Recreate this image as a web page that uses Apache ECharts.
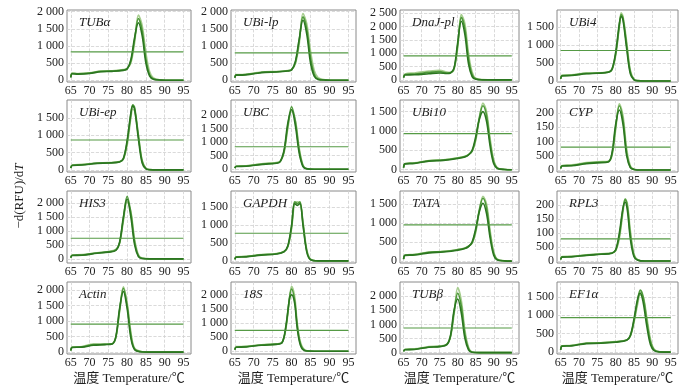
<!DOCTYPE html>
<html>
<head>
<meta charset="utf-8">
<script src="https://cdn.jsdelivr.net/npm/echarts@6/dist/echarts.min.js"></script>
<style>
  html, body { margin: 0; padding: 0; background: #fff; }
  #chart { width: 700px; height: 391px; }
</style>
</head>
<body>
<div id="chart"></div>
<script>
// gene names, one per panel (row by row)
const panelNames = ['TUBα', 'UBi-lp', 'DnaJ-pl', 'UBi4', 'UBi-ep', 'UBC', 'UBi10', 'CYP',
    'HIS3', 'GAPDH', 'TATA', 'RPL3', 'Actin', '18S', 'TUBβ', 'EF1α'];
const thresholds = [830, 800, 900, 850, 865, 830, 930, 80, 740, 770, 950, 79, 900, 740, 870, 935];
const yMin = [-50, -50, -80, -30, -60, -100, -60, -7, -150, -60, -50, -7, -60, -100, -50, -50];
const yMax = [2050, 2050, 2620, 1980, 2020, 2550, 1800, 245, 2440, 1950, 1840, 250, 2250, 2450, 2500, 1900];
const ticks2000 = [0, 500, 1000, 1500, 2000];
const ticks2500 = [0, 500, 1000, 1500, 2000, 2500];
const ticks1500 = [0, 500, 1000, 1500];
const ticks200 = [0, 50, 100, 150, 200];
const labels200 = ['0', '500', '100', '150', '200'];   // printed this way in the figure
const yTicks = [ticks2000, ticks2000, ticks2500, ticks1500, ticks1500, ticks2000, ticks1500, ticks200,
    ticks2000, ticks1500, ticks1500, ticks200, ticks2000, ticks2000, ticks2000, ticks1500];
const xTicks = [65, 70, 75, 80, 85, 90, 95];

// melt curves: temperatures and three replicate traces (dark, mid, light)
const tempsTUBa = [65, 65.4, 67, 70, 73, 76, 79, 80, 81, 82, 83, 84, 85, 86, 87, 89, 92, 95];
const curvesTUBa = [
    [80, 190, 180, 200, 250, 260, 290, 330, 600, 1250, 1680, 1300, 500, 120, 30, 5, 0, 0],
    [90, 200, 190, 210, 260, 270, 300, 340, 560, 1200, 1800, 1450, 620, 160, 40, 8, 0, 0],
    [100, 210, 200, 220, 270, 275, 310, 340, 500, 1100, 1900, 1600, 800, 250, 70, 10, 0, 0]];
const tempsUBiLp = [65, 65.4, 67, 70, 73, 76, 79, 80, 81, 82, 83, 84, 85, 86, 87, 89, 92, 95];
const curvesUBiLp = [
    [70, 150, 150, 190, 230, 240, 270, 300, 550, 1200, 1750, 1350, 500, 110, 25, 5, 0, 0],
    [80, 160, 160, 200, 240, 250, 280, 310, 520, 1150, 1850, 1500, 650, 170, 40, 8, 0, 0],
    [90, 170, 170, 210, 250, 255, 285, 310, 480, 1050, 1950, 1650, 850, 280, 80, 15, 0, 0]];
const tempsDnaJ = [65, 65.4, 68, 72, 75, 77, 78, 79, 80, 81, 82, 83, 84, 85, 87, 90, 95];
const curvesDnaJ = [
    [80, 180, 190, 230, 260, 240, 260, 450, 1400, 2200, 1700, 600, 120, 20, 0, 0, 0],
    [90, 200, 220, 280, 310, 260, 270, 430, 1300, 2350, 1900, 800, 200, 40, 5, 0, 0],
    [100, 220, 260, 330, 360, 290, 280, 400, 1200, 2450, 2100, 1000, 300, 60, 10, 0, 0]];
const tempsUBi4 = [65, 65.4, 68, 72, 75, 78, 79, 80, 81, 81.5, 82, 83, 84, 85, 86, 88, 95];
const curvesUBi4 = [
    [60, 140, 150, 200, 215, 240, 330, 800, 1600, 1800, 1700, 900, 200, 30, 5, 0, 0],
    [65, 150, 160, 210, 220, 245, 320, 750, 1550, 1850, 1750, 1000, 250, 40, 8, 0, 0],
    [70, 160, 170, 220, 225, 250, 310, 700, 1500, 1900, 1800, 1100, 300, 50, 10, 0, 0]];
const tempsUBiEp = [65, 65.4, 68, 72, 75, 78, 79, 80, 81, 81.5, 82, 83, 84, 85, 86, 88, 95];
const curvesUBiEp = [
    [50, 130, 140, 190, 200, 230, 330, 850, 1650, 1850, 1750, 900, 200, 30, 5, 0, 0],
    [55, 135, 150, 195, 205, 235, 320, 800, 1600, 1880, 1800, 1000, 250, 40, 8, 0, 0],
    [60, 140, 160, 200, 210, 240, 310, 700, 1500, 1750, 1700, 1000, 280, 50, 10, 0, 0]];
const tempsUBC = [65, 65.4, 68, 71, 74, 76, 77, 78, 79, 80, 81, 82, 83, 84, 86, 95];
const curvesUBC = [
    [40, 100, 110, 160, 200, 220, 280, 700, 1700, 2200, 1600, 600, 100, 15, 0, 0],
    [45, 110, 120, 170, 210, 230, 290, 650, 1600, 2300, 1750, 700, 130, 20, 0, 0],
    [50, 120, 130, 180, 230, 250, 300, 600, 1500, 2150, 1800, 800, 160, 25, 0, 0]];
const tempsUBi10 = [65, 65.4, 68, 72, 76, 80, 82, 83, 84, 85, 86, 87, 88, 89, 90, 91, 93, 95];
const curvesUBi10 = [
    [50, 150, 160, 220, 240, 290, 330, 380, 500, 850, 1300, 1500, 1250, 600, 150, 30, 5, 0],
    [55, 155, 170, 230, 250, 300, 340, 390, 480, 800, 1350, 1650, 1400, 700, 200, 40, 5, 0],
    [60, 160, 175, 235, 255, 305, 345, 390, 470, 750, 1300, 1720, 1500, 800, 250, 50, 8, 0]];
const tempsCYP = [65, 65.4, 68, 72, 75, 78, 79, 80, 81, 82, 83, 84, 85, 87, 95];
const curvesCYP = [
    [5, 14, 15, 22, 25, 28, 60, 160, 210, 160, 50, 8, 2, 0, 0],
    [6, 15, 16, 24, 27, 30, 55, 150, 225, 175, 60, 10, 2, 0, 0],
    [7, 16, 18, 26, 29, 30, 50, 140, 232, 190, 75, 15, 3, 0, 0]];
const tempsHIS3 = [65, 65.4, 68, 72, 75, 77, 78, 79, 80, 81, 82, 83, 84, 86, 95];
const curvesHIS3 = [
    [40, 120, 130, 200, 240, 300, 600, 1500, 2150, 1500, 500, 80, 10, 0, 0],
    [45, 130, 140, 210, 250, 320, 580, 1450, 2250, 1650, 600, 110, 15, 0, 0],
    [50, 140, 150, 220, 260, 340, 550, 1350, 2050, 1700, 700, 150, 20, 0, 0]];
const tempsGAPDH = [65, 65.4, 68, 72, 76, 78, 79, 80, 80.8, 81.5, 82.2, 83, 84, 85, 87, 95];
const curvesGAPDH = [
    [40, 100, 110, 160, 190, 250, 420, 1000, 1600, 1550, 1600, 1000, 250, 30, 0, 0],
    [45, 110, 120, 170, 200, 260, 400, 950, 1650, 1600, 1650, 1050, 280, 40, 0, 0],
    [50, 115, 125, 175, 205, 265, 390, 900, 1620, 1650, 1620, 1100, 320, 50, 0, 0]];
const tempsTATA = [65, 65.4, 68, 72, 76, 80, 82, 83, 84, 85, 86, 87, 88, 89, 90, 91, 93, 95];
const curvesTATA = [
    [50, 150, 160, 215, 240, 285, 330, 380, 500, 850, 1300, 1520, 1250, 600, 150, 30, 5, 0],
    [55, 155, 170, 230, 250, 300, 340, 390, 480, 800, 1350, 1650, 1400, 700, 200, 40, 5, 0],
    [60, 160, 175, 235, 255, 305, 345, 390, 470, 750, 1300, 1700, 1500, 800, 250, 50, 8, 0]];
const tempsRPL3 = [65, 65.4, 68, 72, 76, 79, 80, 81, 82, 82.6, 83.2, 84, 85, 86, 88, 95];
const curvesRPL3 = [
    [5, 14, 15, 20, 24, 28, 40, 100, 190, 210, 180, 80, 15, 3, 0, 0],
    [6, 15, 16, 21, 25, 29, 38, 90, 185, 220, 195, 95, 20, 4, 0, 0],
    [7, 16, 17, 22, 26, 29, 36, 80, 175, 222, 205, 110, 25, 5, 0, 0]];
const tempsActin = [65, 65.4, 68, 71, 74, 76, 77, 78, 79, 80, 81, 82, 84, 86, 95];
const curvesActin = [
    [50, 150, 160, 220, 240, 260, 500, 1400, 1950, 1400, 450, 80, 5, 0, 0],
    [55, 155, 170, 240, 250, 265, 480, 1350, 2050, 1500, 550, 100, 10, 0, 0],
    [60, 160, 180, 260, 260, 270, 460, 1300, 2100, 1600, 650, 130, 15, 0, 0]];
const temps18S = [65, 65.4, 68, 72, 76, 77.5, 78.5, 79.5, 80, 80.8, 81.5, 82.5, 84, 86, 95];
const curves18S = [
    [50, 140, 150, 210, 240, 300, 900, 1900, 2000, 1700, 800, 150, 5, 0, 0],
    [55, 150, 160, 220, 250, 310, 850, 1950, 2200, 1800, 900, 200, 10, 0, 0],
    [60, 160, 170, 230, 260, 320, 800, 1900, 2300, 1950, 1000, 250, 15, 0, 0]];
const tempsTUBb = [65, 65.4, 68, 72, 75, 77, 78, 79, 80, 81, 82, 83, 84, 86, 95];
const curvesTUBb = [
    [40, 100, 110, 190, 210, 280, 600, 1500, 1900, 1400, 500, 100, 10, 0, 0],
    [45, 110, 120, 200, 220, 290, 580, 1450, 2100, 1650, 650, 140, 15, 0, 0],
    [50, 120, 130, 210, 230, 300, 550, 1350, 2300, 1850, 800, 200, 20, 0, 0]];
const tempsEF1a = [65, 65.4, 68, 72, 76, 80, 83, 84, 85, 86, 86.7, 87.5, 88.5, 89.5, 90.5, 92, 95];
const curvesEF1a = [
    [60, 160, 170, 230, 240, 270, 320, 450, 900, 1450, 1600, 1350, 700, 200, 40, 5, 0],
    [65, 170, 180, 240, 250, 280, 330, 440, 850, 1400, 1680, 1500, 850, 280, 60, 8, 0],
    [70, 175, 185, 245, 255, 285, 330, 430, 800, 1300, 1550, 1500, 950, 350, 80, 10, 0]];

const panelTemps = [tempsTUBa, tempsUBiLp, tempsDnaJ, tempsUBi4, tempsUBiEp, tempsUBC, tempsUBi10, tempsCYP,
    tempsHIS3, tempsGAPDH, tempsTATA, tempsRPL3, tempsActin, temps18S, tempsTUBb, tempsEF1a];
const panelCurves = [curvesTUBa, curvesUBiLp, curvesDnaJ, curvesUBi4, curvesUBiEp, curvesUBC, curvesUBi10, curvesCYP,
    curvesHIS3, curvesGAPDH, curvesTATA, curvesRPL3, curvesActin, curves18S, curvesTUBb, curvesEF1a];

const colLeft = [67, 231, 400, 557];
const colWidth = [124, 125, 119, 121];
const rowTop = [10, 100, 191, 282];
const rowHeight = 72;
const curveColors = ['#2b7620', '#4f9a3a', '#a6cd8e'];
const serif = 'Liberation Serif, "Times New Roman", "Noto Sans CJK SC", serif';

function fmtY(v, i) {
    if (yTicks[i] === ticks200) return labels200[ticks200.indexOf(v)];
    return v >= 1000 ? Math.floor(v / 1000) + ' ' + String(v % 1000).padStart(3, '0') : String(v);
}

function buildOption() {
    const grid = [], xAxis = [], yAxis = [], series = [], title = [];
    panelNames.forEach((name, i) => {
        const r = Math.floor(i / 4), c = i % 4;
        grid.push({
            left: colLeft[c], top: rowTop[r], width: colWidth[c], height: rowHeight,
            show: true, borderColor: '#8a8a8a', borderWidth: 1
        });
        xAxis.push({
            type: 'value', gridIndex: i, min: 64, max: 97,
            axisLine: { show: false },
            axisTick: { show: false, customValues: xTicks },
            axisLabel: {
                customValues: xTicks, hideOverlap: false, interval: 0,
                fontFamily: serif, fontSize: 12, color: '#222', margin: 3
            },
            splitLine: { show: true, lineStyle: { color: '#d0d0d0', type: 'dashed', width: 0.8 } }
        });
        yAxis.push({
            type: 'value', gridIndex: i, min: yMin[i], max: yMax[i],
            axisLine: { show: false },
            axisTick: { show: false, customValues: yTicks[i] },
            axisLabel: {
                customValues: yTicks[i], hideOverlap: false, interval: 0,
                fontFamily: serif, fontSize: 12, lineHeight: 12, color: '#222', margin: 3,
                formatter: v => fmtY(v, i)
            },
            splitLine: { show: true, lineStyle: { color: '#d0d0d0', type: 'dashed', width: 0.8 } }
        });
        title.push({
            text: name, left: colLeft[c] + 7, top: rowTop[r] + 1,
            textStyle: { fontFamily: serif, fontStyle: 'italic', fontWeight: 'normal', fontSize: 13, color: '#222' }
        });
        // light traces first so dark ones sit on top
        for (let k = 2; k >= 0; k--) {
            series.push({
                type: 'line', xAxisIndex: i, yAxisIndex: i, smooth: 0.35, showSymbol: false, silent: true,
                data: panelTemps[i].map((t, j) => [t, panelCurves[i][k][j]]),
                lineStyle: { color: curveColors[k], width: 1.6 }
            });
        }
        series.push({
            type: 'line', xAxisIndex: i, yAxisIndex: i, showSymbol: false, silent: true,
            data: [[65, thresholds[i]], [95, thresholds[i]]],
            lineStyle: { color: '#559a45', width: 1.2 }
        });
    });

    const graphic = [{
        type: 'text', x: 20, y: 196, rotation: Math.PI / 2,
        style: {
            text: '{n|−d(RFU)/d}{i|T}', align: 'center', verticalAlign: 'middle',
            rich: {
                n: { fontFamily: serif, fontSize: 13, fill: '#222' },
                i: { fontFamily: serif, fontSize: 13, fontStyle: 'italic', fill: '#222' }
            }
        }
    }];
    colLeft.forEach((l, c) => {
        graphic.push({
            type: 'text', x: l + colWidth[c] / 2, y: 379,
            style: {
                text: '温度 Temperature/℃', align: 'center', verticalAlign: 'middle',
                fontFamily: serif, fontSize: 13, fill: '#222'
            }
        });
    });

    return { animation: false, title, grid, xAxis, yAxis, series, graphic };
}

const myChart = echarts.init(document.getElementById('chart'));
myChart.setOption(buildOption());
</script>
</body>
</html>
